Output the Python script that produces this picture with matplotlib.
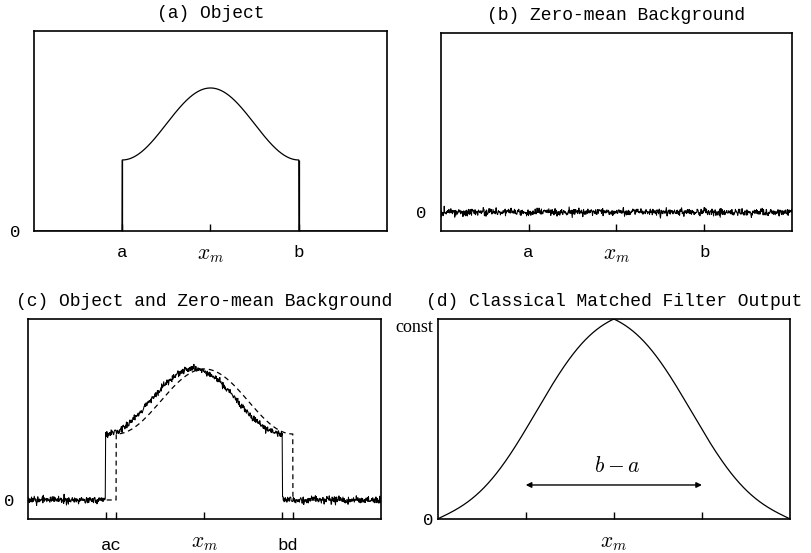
import numpy as np
import matplotlib
matplotlib.use("Agg")
import matplotlib.pyplot as plt

plt.rcParams['mathtext.fontset'] = 'cm'

# ---- data ----
x_ticks_ab = [0.25, 0.5, 0.75]          # a, x_m, b
x_ticklabels_ab = ['a', r'$x_m$', 'b']
x_ticks_c = [0.22, 0.25, 0.5, 0.72, 0.75]  # c, a, x_m, d, b
x_ticklabels_c = ['', '', r'$x_m$', '', '']
edge_a, peak_a = 0.355, 0.715           # panel (a) object edge / peak heights
zero_b = 0.095                          # zero level in panels (b), (c)
noise_amp = 0.009                       # background noise std
edge_c, peak_c = 0.33, 0.655            # object heights above zero in (c)
shift_c = 0.03                          # shift of observed object in (c)
arrow_span = [0.25, 0.75]               # b - a arrow in (d)
arrow_y = 0.17

mono = 'Liberation Mono'
fig = plt.figure(figsize=(8.11, 5.53), dpi=100)

def object_profile(x, a, b, edge, peak):
    xm = 0.5 * (a + b)
    half = 0.5 * (b - a)
    y = edge + (peak - edge) * 0.5 * (1 + np.cos(np.pi * (x - xm) / half))
    return np.where((x >= a) & (x <= b), y, 0.0)

def style(ax, title, ticks, labels):
    ax.set_xlim(0, 1)
    ax.set_ylim(0, 1)
    ax.set_xticks(ticks)
    ax.set_xticklabels(labels)
    for lab, t in zip(ax.get_xticklabels(), labels):
        if t.startswith('$'):
            lab.set_fontsize(15.5)
        else:
            lab.set_fontfamily(mono)
            lab.set_fontsize(12.5)
    ax.tick_params(axis='x', direction='in', length=5, width=1, pad=10)
    ax.tick_params(axis='y', length=0, pad=10)
    for s in ax.spines.values():
        s.set_linewidth(1.2)
    ax.set_title(title, family=mono, fontsize=13, pad=9)

rng = np.random.default_rng(3)
xs = np.linspace(0, 1, 2001)
xn = np.linspace(0, 1, 901)

# (a)
ax = fig.add_axes([0.0419, 0.5823, 0.4353, 0.3617])
ya = object_profile(xs, 0.25, 0.75, edge_a, peak_a)
ax.plot(xs, ya, color='black', lw=0.9)
ax.vlines([0.25, 0.75], 0, edge_a, color='black', lw=0.9)
style(ax, '(a) Object', x_ticks_ab, x_ticklabels_ab)
ax.set_yticks([0]); ax.set_yticklabels(['0'], family=mono, fontsize=12.5)

# (b)
ax = fig.add_axes([0.5434, 0.5823, 0.4332, 0.3586])
nb = zero_b + noise_amp * rng.standard_normal(xn.size)
ax.plot(xn, nb, color='black', lw=0.75)
style(ax, '(b) Zero-mean Background', x_ticks_ab, x_ticklabels_ab)
ax.set_yticks([zero_b]); ax.set_yticklabels(['0'], family=mono, fontsize=12.5)

# (c)
ax = fig.add_axes([0.0345, 0.0615, 0.4353, 0.3617])
yc_true = zero_b + object_profile(xs, 0.25, 0.75, edge_c, peak_c)
yc_obs = zero_b + object_profile(xn, 0.25 - shift_c, 0.75 - shift_c, edge_c, peak_c) \
    + noise_amp * rng.standard_normal(xn.size)
ax.plot(xs, yc_true, color='black', lw=0.9, ls=(0, (4, 3)))
ax.plot(xn, yc_obs, color='black', lw=0.75)
style(ax, '(c) Object and Zero-mean Background', x_ticks_c, x_ticklabels_c)
ax.set_yticks([zero_b]); ax.set_yticklabels(['0'], family=mono, fontsize=12.5)
ax.text(0.235, -0.095, 'ac', family=mono, fontsize=12.5, ha='center', va='top',
        transform=ax.transAxes)
ax.text(0.735, -0.095, 'bd', family=mono, fontsize=12.5, ha='center', va='top',
        transform=ax.transAxes)

# (d) autocorrelation of the object
ax = fig.add_axes([0.5397, 0.0615, 0.4344, 0.3617])
obj = object_profile(xs, 0.25, 0.75, 1.0, 2.0)
nz = obj[(xs >= 0.25) & (xs <= 0.75)]
r = np.correlate(nz, nz, mode='full')
r = r / r.max()
lag = np.linspace(0, 1, r.size)
ax.plot(lag, r, color='black', lw=0.9)
ax.annotate('', xy=(arrow_span[0], arrow_y), xytext=(arrow_span[1], arrow_y),
            arrowprops=dict(arrowstyle='<|-|>', color='black', lw=1.0,
                            mutation_scale=8, shrinkA=0, shrinkB=0))
ax.text(0.51, arrow_y + 0.045, r'$b-a$', fontsize=15.5, ha='center', va='bottom')
style(ax, '(d) Classical Matched Filter Output', x_ticks_ab, ['', r'$x_m$', ''])
ax.set_yticks([0, 1])
ax.set_yticklabels(['0', 'const'])
ax.get_yticklabels()[0].set_fontfamily(mono)
ax.get_yticklabels()[0].set_fontsize(12.5)
ax.get_yticklabels()[1].set_fontfamily('Liberation Serif')
ax.get_yticklabels()[1].set_fontsize(13)
ax.tick_params(axis='y', pad=3)
ax.get_yticklabels()[1].set_va('top')

fig.savefig('out.png', dpi=100)
